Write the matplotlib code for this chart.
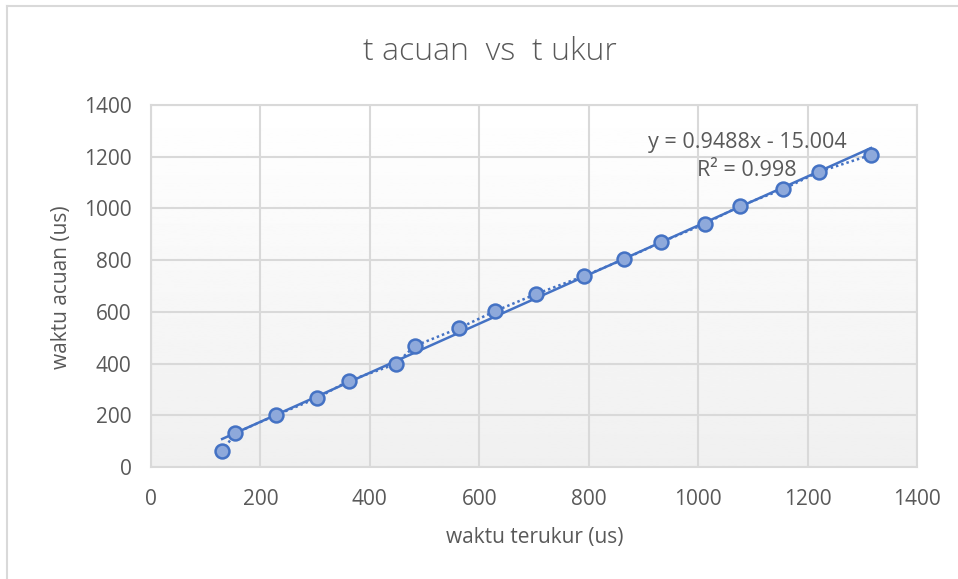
import numpy as np
import matplotlib.pyplot as plt

# data
t_ukur = [130, 154, 229, 304, 361, 447, 482, 563, 629, 704, 792, 865, 933, 1012, 1076, 1156, 1220, 1316]
t_acuan = [60, 131, 201, 267, 333, 398, 468, 537, 603, 669, 739, 804, 870, 940, 1009, 1075, 1141, 1207]
fit_slope = 0.9488
fit_intercept = -15.004
x_ticks = [0, 200, 400, 600, 800, 1000, 1200, 1400]
y_ticks = [0, 200, 400, 600, 800, 1000, 1200, 1400]

W, H = 958, 579
txt = '#595959'
blue = '#4472c4'
grid = '#d9d9d9'
plt.rcParams['font.family'] = ['Open Sans', 'DejaVu Sans']

fig = plt.figure(figsize=(W / 100, H / 100), dpi=100)
fig.patch.set_facecolor('white')

# chart outer border (only top/left visible in the screenshot)
fig.add_artist(plt.Line2D([7 / W, 7 / W], [0, 1 - 6 / H], color=grid, lw=1.5))
fig.add_artist(plt.Line2D([7 / W, 1], [1 - 6 / H, 1 - 6 / H], color=grid, lw=1.5))

l, r, t, b = 151, 917, 105, 467
ax = fig.add_axes([l / W, 1 - b / H, (r - l) / W, (b - t) / H])

# gradient background of plot area
grad = np.linspace(1.0, 0.94, 256).reshape(-1, 1)
ax.imshow(grad, cmap='gray', vmin=0, vmax=1, aspect='auto',
          extent=[0, 1, 0, 1], transform=ax.transAxes, zorder=0)

ax.set_xlim(0, 1400)
ax.set_ylim(0, 1400)
ax.set_xticks(x_ticks)
ax.set_yticks(y_ticks)
ax.grid(True, color=grid, lw=1.5, zorder=1)
ax.tick_params(length=0, labelsize=15, labelcolor=txt, pad=14)
ax.tick_params(axis='x', pad=16)
for s in ax.spines.values():
    s.set_color(grid)
    s.set_linewidth(1.5)

# points joined by dotted line
ax.plot(t_ukur, t_acuan, ls=(0, (1, 1.2)), color=blue, lw=1.8, zorder=3)
ax.plot(t_ukur, t_acuan, ls='none', marker='o', ms=10, mfc='#8ea9db',
        mec=blue, mew=1.8, zorder=4)

# linear trendline
xs = np.array([min(t_ukur), max(t_ukur)])
ax.plot(xs, fit_slope * xs + fit_intercept, color=blue, lw=1.8, zorder=3)

fig.text(490 / W, 1 - 52 / H, 't acuan  vs  t ukur', ha='center', va='center',
         fontsize=23, color=txt, fontweight='light')
fig.text(535 / W, 1 - 537 / H, 'waktu terukur (us)', ha='center', va='center',
         fontsize=15, color=txt)
fig.text(62 / W, 1 - 287 / H, 'waktu acuan (us)', ha='center', va='center',
         fontsize=15, color=txt, rotation=90)
fig.text(747 / W, 1 - 142 / H, 'y = 0.9488x - 15.004', ha='center', va='center',
         fontsize=15.5, color=txt)
fig.text(747 / W, 1 - 171 / H, 'R² = 0.998', ha='center', va='center',
         fontsize=15.5, color=txt)

fig.savefig('out.png', dpi=100)
